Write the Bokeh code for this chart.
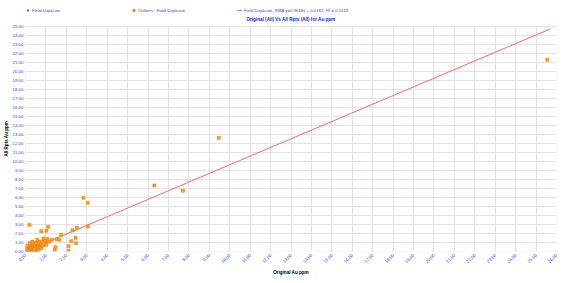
import math
from bokeh.plotting import figure
from bokeh.models import (Range1d, Label, Legend, LegendItem, BoxAnnotation,
                          FixedTicker, NumeralTickFormatter)
from bokeh.embed import file_html
from bokeh.resources import INLINE

title_text = "Original (All) Vs All Rpts (All) for Au ppm"
x_label = "Original Au ppm"
y_label = "All Rpts Au ppm"
series_names = ["Field Duplicate", "Outliers - Field Duplicate",
                "Field Duplicate, RMA y=0.9618x + 0.0182, R\u00b2 = 0.5119"]

rma_slope = 0.9618
rma_intercept = 0.0182
rma_x = [0.0, 25.7]

dup_x = [0.05, 0.08, 0.10, 0.12, 0.14, 0.17, 0.19, 0.21, 0.24, 0.26, 0.29, 0.31,
         0.33, 0.36, 0.38, 0.41, 0.44, 0.46, 0.49, 0.52, 0.55, 0.57, 0.61, 0.64,
         0.67, 0.70, 0.74, 0.78, 0.82, 0.86, 0.91, 0.96, 1.02, 1.07, 0.15, 0.28,
         0.43, 0.58, 0.22, 0.51, 0.34, 0.07, 0.63, 0.88, 0.02, 0.40]
dup_y = [0.10, 0.35, 0.05, 0.22, 0.48, 0.15, 0.62, 0.30, 0.08, 0.41, 0.55, 0.18,
         0.70, 0.26, 0.45, 0.82, 0.12, 0.60, 0.38, 0.95, 0.50, 0.20, 0.72, 0.44,
         1.05, 0.58, 0.80, 0.35, 1.12, 0.66, 0.90, 1.20, 0.75, 1.38, 0.02, 0.85,
         0.28, 1.30, 0.95, 0.03, 1.10, 0.62, 0.10, 1.45, 0.25, 0.05]

out_x = [25.55, 9.46, 6.31, 7.71, 2.84, 3.05, 0.19, 0.77, 1.02, 1.11, 1.75, 2.30,
         2.51, 3.05, 2.45, 2.48, 2.24, 2.11, 2.11, 1.46, 1.43, 1.54, 1.65, 1.29, 1.15]
out_y = [21.30, 12.63, 7.33, 6.74, 5.97, 5.41, 2.97, 2.26, 2.30, 2.74, 1.86, 2.37,
         2.63, 2.78, 1.52, 0.93, 1.15, 0.59, 0.07, 0.48, 0.11, 1.37, 1.30, 1.30, 1.08]

x_ticks = list(range(0, 27))
y_ticks = list(range(0, 26))
x_max = 26
y_max = 25

W, H = 568, 283
TOP_PAD = 26      # px between canvas top and the plot area
BOTTOM = 32
FRAME_H = H - BOTTOM
y_top = y_max * FRAME_H / (FRAME_H - TOP_PAD)
px_y = (y_top - y_max) / TOP_PAD   # data units per pixel (y)

p = figure(width=W, height=H, output_backend="svg", toolbar_location=None,
           x_range=Range1d(0, x_max), y_range=Range1d(0, y_top),
           min_border_left=23, min_border_right=12, min_border_top=0,
           min_border_bottom=BOTTOM)
p.background_fill_color = "white"
p.border_fill_color = "white"
p.outline_line_color = None

blue = "#3a3af0"
font = "Liberation Sans"
for ax in (p.xaxis[0], p.yaxis[0]):
    ax.major_label_text_font = font
    ax.major_label_text_font_size = "4.4px"
    ax.major_label_text_color = blue
    ax.axis_line_color = None
    ax.major_tick_line_color = None
    ax.minor_tick_line_color = None
    ax.major_tick_out = 0
    ax.major_tick_in = 0
    ax.minor_tick_out = 0
    ax.minor_tick_in = 0
    ax.formatter = NumeralTickFormatter(format="0.00")
    ax.axis_label_text_font = font
    ax.axis_label_text_font_size = "4.6px"
    ax.axis_label_text_font_style = "bold"
    ax.axis_label_text_color = "black"
p.xaxis[0].ticker = FixedTicker(ticks=x_ticks)
p.yaxis[0].ticker = FixedTicker(ticks=y_ticks)
p.xaxis[0].major_label_orientation = math.pi / 4
p.xaxis[0].major_label_standoff = 3
p.yaxis[0].major_label_standoff = 2
p.xaxis[0].axis_label = x_label
# trailing no-break spaces shift the centred label down to the plot-area middle
p.yaxis[0].axis_label = y_label + "\u00a0" * 20
p.xaxis[0].axis_label_standoff = 3
p.yaxis[0].axis_label_standoff = 1

p.grid.grid_line_color = "#e2e2e2"
p.grid.grid_line_width = 1

rma_y = [rma_slope * v + rma_intercept for v in rma_x]
r_line = p.line(rma_x, rma_y, line_color="#f26a6a", line_width=1)
r_dup = p.scatter(dup_x, dup_y, marker="square", size=3, fill_color="#f7a030",
                  line_color="#e8800c", line_width=0.6)
r_out = p.scatter(out_x, out_y, marker="square", size=3, fill_color="#f7a030",
                  line_color="#e8800c", line_width=0.6)
r_tri = p.scatter([-10], [-10], marker="triangle", size=5, fill_color="#f58a1f",
                  line_color="#d06000")
r_sq = p.scatter([-10], [-10], marker="square", size=5, fill_color="#f58a1f",
                 line_color="#f58a1f")

# white band above the plot area (hides grid lines there) and plot-area border
p.add_layout(BoxAnnotation(bottom=y_max, fill_color="white", fill_alpha=1,
                           line_color=None))
p.add_layout(BoxAnnotation(left=0, right=x_max, bottom=0, top=y_max,
                           fill_alpha=0, line_color="#c8c8c8", line_width=1))

# title (underlined), 7 px above the plot area
title_y = y_max + 7 * px_y
p.add_layout(Label(x=x_max / 2, y=title_y, text=title_text, text_align="center",
                   text_baseline="middle", text_font=font,
                   text_font_size="4.6px", text_font_style="bold",
                   text_color="#2020d0"))
px_per_x = (W - 23 - 12) / x_max
half_w = 53 / px_per_x
ul_y = title_y - 2.8 * px_y
p.line([x_max / 2 - half_w, x_max / 2 + half_w], [ul_y, ul_y],
       line_color="#2020d0", line_width=0.6)

legend = Legend(items=[LegendItem(label=series_names[0], renderers=[r_tri]),
                       LegendItem(label=series_names[1], renderers=[r_sq]),
                       LegendItem(label=series_names[2], renderers=[r_line])],
                orientation="horizontal", location="top_left",
                label_text_font=font, label_text_font_size="4.3px",
                label_text_color=blue, glyph_width=5, glyph_height=20,
                label_standoff=2, label_width=94, label_height=20, spacing=5,
                padding=5, margin=0, border_line_color=None,
                background_fill_alpha=0)
p.add_layout(legend, "center")

open("out.html", "w").write(file_html(p, INLINE))
